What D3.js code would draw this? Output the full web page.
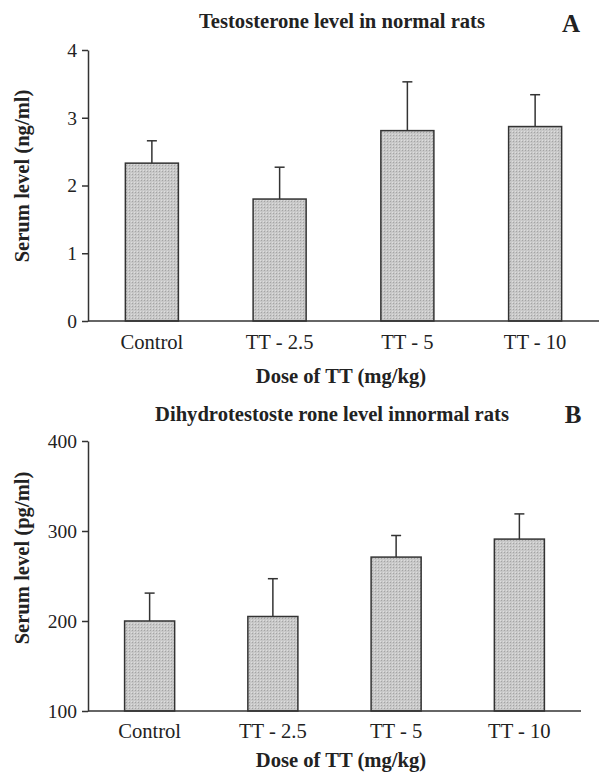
<!DOCTYPE html>
<html>
<head>
<meta charset="utf-8">
<script src="https://cdn.jsdelivr.net/npm/d3@7"></script>
<style>
  body { margin: 0; background: #fff; }
  text { font-family: "Liberation Serif", "Times New Roman", serif; fill: #222; }
</style>
</head>
<body>
<script>
// Shared categories
const groups = ["Control", "TT - 2.5", "TT - 5", "TT - 10"]

// Panel A: testosterone (ng/ml)
const testoMean = [2.33, 1.80, 2.81, 2.87]
const testoErr  = [0.33, 0.47, 0.72, 0.47]
const testoTicks = [0, 1, 2, 3, 4]

// Panel B: dihydrotestosterone (pg/ml)
const dhtMean = [200, 205, 271, 291]
const dhtErr  = [31, 42, 24, 28]
const dhtTicks = [100, 200, 300, 400]

const svg = d3.select("body").append("svg")
    .attr("width", 599)
    .attr("height", 772)

// stippled grey fill like the original print
const defs = svg.append("defs")
const pat = defs.append("pattern")
    .attr("id", "stipple")
    .attr("width", 3).attr("height", 3)
    .attr("patternUnits", "userSpaceOnUse")
pat.append("rect").attr("width", 3).attr("height", 3).attr("fill", "#c8c8c8")
pat.append("rect").attr("width", 1).attr("height", 1).attr("fill", "#a4a4a4")
pat.append("rect").attr("x", 2).attr("y", 2).attr("width", 1).attr("height", 1).attr("fill", "#dedede")

function drawPanel(p){
    const g = svg.append("g")

    const x = d3.scaleBand()
        .domain(groups)
        .range([p.left, p.right])
        .paddingInner(p.pad)
        .paddingOuter(p.pad / 2)

    const y = d3.scaleLinear()
        .domain(p.domain)
        .range([p.bottom, p.top])

    // y axis
    const yAxis = d3.axisLeft(y)
        .tickValues(p.ticks)
        .tickFormat(d3.format("d"))
        .tickSize(6)
        .tickPadding(5)
        .tickSizeOuter(0)
    const ya = g.append("g")
        .attr("transform", `translate(${p.left},0)`)
        .call(yAxis)
        .attr("font-family", null)
        .attr("font-size", null)
    ya.select(".domain").attr("stroke", "#333").attr("stroke-width", 1.5)
    ya.selectAll(".tick line").attr("stroke", "#333").attr("stroke-width", 1.5)
    ya.selectAll(".tick text")
        .style("font-size", "19.5px")
        .attr("fill", "#222")

    // error bars
    const eb = g.selectAll(".err").data(groups).enter().append("g")
    eb.append("line")
        .attr("x1", d => x(d) + x.bandwidth() / 2)
        .attr("x2", d => x(d) + x.bandwidth() / 2)
        .attr("y1", (d, i) => y(p.mean[i]))
        .attr("y2", (d, i) => y(p.mean[i] + p.err[i]))
        .attr("stroke", "#333").attr("stroke-width", 1.5)
    eb.append("line")
        .attr("x1", d => x(d) + x.bandwidth() / 2 - 5)
        .attr("x2", d => x(d) + x.bandwidth() / 2 + 5)
        .attr("y1", (d, i) => y(p.mean[i] + p.err[i]))
        .attr("y2", (d, i) => y(p.mean[i] + p.err[i]))
        .attr("stroke", "#333").attr("stroke-width", 1.5)

    // bars
    g.selectAll(".bar").data(groups).enter().append("rect")
        .attr("x", d => x(d))
        .attr("width", x.bandwidth())
        .attr("y", (d, i) => y(p.mean[i]))
        .attr("height", (d, i) => y(p.domain[0]) - y(p.mean[i]))
        .attr("fill", "url(#stipple)")
        .attr("stroke", "#333").attr("stroke-width", 1.5)

    // baseline
    g.append("line")
        .attr("x1", p.left).attr("x2", p.lineEnd)
        .attr("y1", y(p.domain[0])).attr("y2", y(p.domain[0]))
        .attr("stroke", "#333").attr("stroke-width", 1.5)

    // category labels
    g.selectAll(".cat").data(groups).enter().append("text")
        .attr("x", d => x(d) + x.bandwidth() / 2)
        .attr("y", p.bottom + p.catDy)
        .attr("text-anchor", "middle")
        .style("font-size", "20.6px")
        .text(d => d)

    // x title
    g.append("text")
        .attr("x", 341).attr("y", p.bottom + p.xTitleDy)
        .attr("text-anchor", "middle")
        .style("font-size", "20.6px").style("font-weight", "bold")
        .text("Dose of TT (mg/kg)")

    // y title
    g.append("text")
        .attr("transform", `translate(29,${p.yTitleMid}) rotate(-90)`)
        .attr("text-anchor", "middle")
        .style("font-size", "20.6px").style("font-weight", "bold")
        .text(p.yTitle)

    // chart title and panel letter
    g.append("text")
        .attr("x", p.titleX).attr("y", p.titleY)
        .attr("text-anchor", "middle")
        .style("font-size", "20.6px").style("font-weight", "bold")
        .text(p.title)
    g.append("text")
        .attr("x", p.letterX).attr("y", p.letterY)
        .attr("text-anchor", "middle")
        .style("font-size", "25px").style("font-weight", "bold")
        .text(p.letter)
}

drawPanel({
    mean: testoMean, err: testoErr, ticks: testoTicks,
    domain: [0, 4], top: 50, bottom: 321,
    left: 88, right: 599, lineEnd: 599, pad: 0.585,
    catDy: 28, xTitleDy: 62, yTitleMid: 176, yTitle: "Serum level (ng/ml)",
    title: "Testosterone level in normal rats", titleX: 342, titleY: 28,
    letter: "A", letterX: 571, letterY: 32
})

drawPanel({
    mean: dhtMean, err: dhtErr, ticks: dhtTicks,
    domain: [100, 400], top: 441, bottom: 711,
    left: 88, right: 581, lineEnd: 581, pad: 0.594,
    catDy: 27, xTitleDy: 56, yTitleMid: 558, yTitle: "Serum level (pg/ml)",
    title: "Dihydrotestoste rone level innormal rats", titleX: 332, titleY: 421,
    letter: "B", letterX: 573, letterY: 423
})
</script>
</body>
</html>
